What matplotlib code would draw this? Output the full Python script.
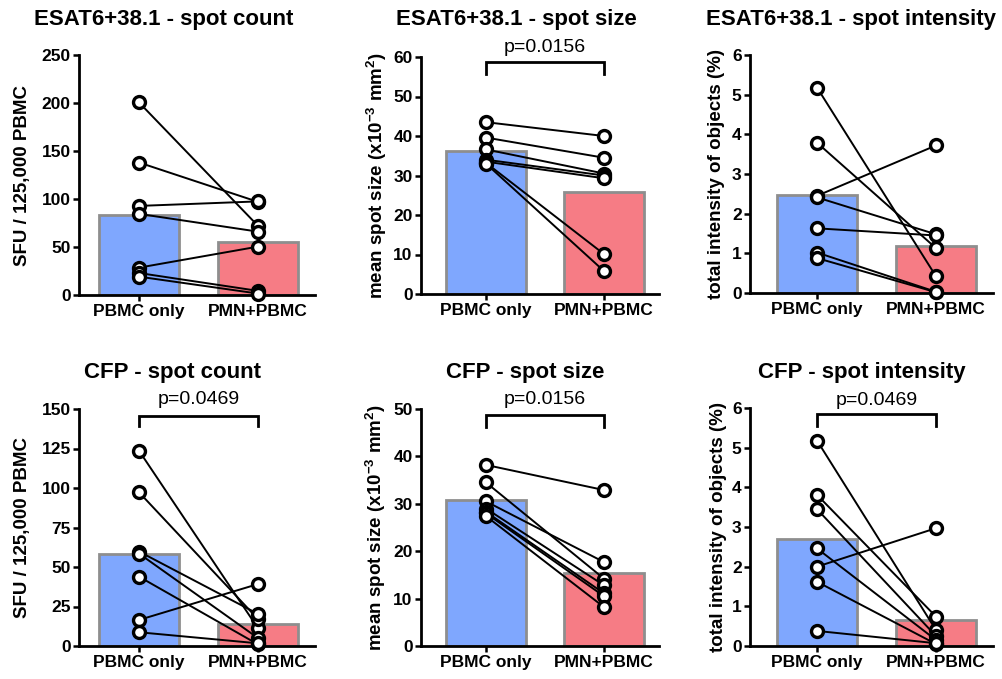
import matplotlib
matplotlib.use("Agg")
import matplotlib.pyplot as plt
import numpy as np

plt.rcParams['font.family'] = ['Liberation Sans', 'DejaVu Sans']
plt.rcParams['mathtext.fontset'] = 'custom'
plt.rcParams['mathtext.rm'] = 'Liberation Sans'
plt.rcParams['mathtext.bf'] = 'Liberation Sans:bold'
plt.rcParams['mathtext.default'] = 'bf'

W, H = 1002, 679
DPI = 100

categories = ["PBMC only", "PMN+PBMC"]

# ---- data (paired values, 7 donors) ----
esat_count_pbmc = [200.6, 138.0, 92.8, 84.5, 28.5, 22.9, 19.1]
esat_count_pmn = [72.0, 97.0, 97.5, 66.0, 50.4, 4.3, 1.5]

esat_size_pbmc = [43.5, 39.6, 36.6, 34.0, 33.5, 33.2, 33.0]
esat_size_pmn = [40.0, 34.5, 30.5, 30.0, 29.3, 10.1, 5.8]

esat_int_pbmc = [5.18, 3.79, 2.45, 2.41, 1.63, 1.02, 0.88]
esat_int_pmn = [0.42, 1.13, 3.72, 1.48, 1.45, 0.03, 0.02]

cfp_count_pbmc = [123.6, 97.3, 59.8, 58.5, 43.9, 16.5, 8.7]
cfp_count_pmn = [11.2, 17.0, 20.3, 5.0, 1.0, 39.2, 1.7]

cfp_size_pbmc = [38.2, 34.5, 30.5, 29.0, 28.3, 28.0, 27.4]
cfp_size_pmn = [32.9, 14.2, 17.7, 12.8, 11.1, 10.5, 8.2]

cfp_int_pbmc = [5.18, 3.81, 3.45, 2.46, 2.00, 1.62, 0.38]
cfp_int_pmn = [0.40, 0.74, 0.25, 0.15, 2.97, 0.05, 0.07]

titles = ["ESAT6+38.1 - spot count", "ESAT6+38.1 - spot size", "ESAT6+38.1 - spot intensity",
          "CFP - spot count", "CFP - spot size", "CFP - spot intensity"]
ylabels = ["SFU / 125,000 PBMC",
           r"mean spot size (x10$^{-3}$ mm$^{2}$)",
           "total intensity of objects (%)",
           "SFU / 125,000 PBMC",
           r"mean spot size (x10$^{-3}$ mm$^{2}$)",
           "total intensity of objects (%)"]
yticks = [[0, 50, 100, 150, 200, 250], [0, 10, 20, 30, 40, 50, 60], [0, 1, 2, 3, 4, 5, 6],
          [0, 25, 50, 75, 100, 125, 150], [0, 10, 20, 30, 40, 50], [0, 1, 2, 3, 4, 5, 6]]
pvalues = [None, "p=0.0156", None, "p=0.0469", "p=0.0156", "p=0.0469"]
# bracket: (top, leg bottom, text y) in data units
brackets = [None, (58.8, 55.7, 62.3), None, (145.6, 139.2, 156.0), (48.7, 46.3, 51.9), (5.85, 5.55, 6.18)]

pbmc = [esat_count_pbmc, esat_size_pbmc, esat_int_pbmc, cfp_count_pbmc, cfp_size_pbmc, cfp_int_pbmc]
pmn = [esat_count_pmn, esat_size_pmn, esat_int_pmn, cfp_count_pmn, cfp_size_pmn, cfp_int_pmn]

# layout in pixels: (axis left, axis right, y0 px, ytop px, center1 px, center2 px)
layout = [(79, 315, 295, 55, 139, 258),
          (421, 659, 294, 57, 486, 604),
          (750, 993, 293, 55, 817, 936),
          (79, 315, 646, 409, 139, 258),
          (421, 659, 646, 409, 486, 604),
          (750, 993, 646, 408, 817, 936)]
title_pos = [(164, 20), (516, 20), (851, 20), (172, 372), (525, 372), (862, 372)]
ylabel_x = [31, 389, 725, 31, 388, 727]

blue = "#7FA7FE"
red = "#F67C85"
edge = "#8E8E8E"

fig = plt.figure(figsize=(W / DPI, H / DPI), dpi=DPI)

for i in range(6):
    L, R, Y0, YT, c1, c2 = layout[i]
    ax = fig.add_axes([L / W, (H - Y0) / H, (R - L) / W, (Y0 - YT) / H])
    sp = c2 - c1
    ax.set_xlim((L - c1) / sp, (R - c1) / sp)
    ax.set_ylim(yticks[i][0], yticks[i][-1])
    a = np.array(pbmc[i])
    b = np.array(pmn[i])
    ax.bar([0, 1], [a.mean(), b.mean()], width=0.67, color=[blue, red],
           edgecolor=edge, linewidth=2.0, zorder=1)
    for va, vb in zip(a, b):
        ax.plot([0, 1], [va, vb], color='black', lw=1.4, zorder=3,
                marker='o', ms=8.6, mfc='white', mec='black', mew=2.4, clip_on=False)
    ax.spines['top'].set_visible(False)
    ax.spines['right'].set_visible(False)
    for s in ['left', 'bottom']:
        ax.spines[s].set_linewidth(2.0)
    ax.set_yticks(yticks[i])
    ax.set_xticks([0, 1])
    ax.set_xticklabels(categories)
    ax.tick_params(axis='both', width=1.8, length=4.5, direction='out')
    ax.tick_params(axis='y', labelsize=12.5, pad=1.5)
    ax.tick_params(axis='x', labelsize=12.5, pad=2)
    for t in ax.get_xticklabels() + ax.get_yticklabels():
        t.set_fontweight('bold')
    ax.set_ylabel(ylabels[i], fontsize=13.5, fontweight='bold')
    ax.yaxis.set_label_coords((ylabel_x[i] - L) / (R - L), 0.5)
    tx, ty = title_pos[i]
    fig.text(tx / W, 1 - ty / H, titles[i], fontsize=16, fontweight='bold',
             ha='center', va='center')
    if pvalues[i]:
        top, leg, tyv = brackets[i]
        ax.plot([0, 0, 1, 1], [leg, top, top, leg], color='black', lw=2.0,
                clip_on=False, zorder=4, solid_joinstyle='miter')
        ax.text(0.5, tyv, pvalues[i], fontsize=14, ha='center', va='center', clip_on=False)

fig.savefig("out.png", dpi=DPI)
